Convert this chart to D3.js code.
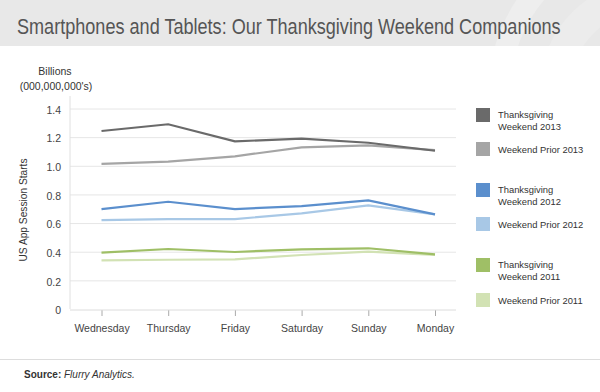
<!DOCTYPE html>
<html>
<head>
<meta charset="utf-8">
<script src="https://cdn.jsdelivr.net/npm/d3@7"></script>
<style>
  body { margin: 0; background: #fff; }
  svg { display: block; font-family: "Liberation Sans", Arial, sans-serif; }
  .tick text { fill: #444; }
</style>
</head>
<body>
<div id="chart"></div>
<script>
var days = ['Wednesday', 'Thursday', 'Friday', 'Saturday', 'Sunday', 'Monday'];
var yTicks = [0, 0.2, 0.4, 0.6, 0.8, 1.0, 1.2, 1.4];

var seriesNames = [
  ['Thanksgiving', 'Weekend 2013'],
  ['Weekend Prior 2013'],
  ['Thanksgiving', 'Weekend 2012'],
  ['Weekend Prior 2012'],
  ['Thanksgiving', 'Weekend 2011'],
  ['Weekend Prior 2011']
];
var seriesColors = ['#6a6a6a', '#a5a5a5', '#5b8fcd', '#a8c8e6', '#9fbf66', '#d2e2b4'];

var tw2013 = [1.243, 1.290, 1.171, 1.189, 1.161, 1.105];
var wp2013 = [1.013, 1.029, 1.066, 1.129, 1.143, 1.110];
var tw2012 = [0.698, 0.749, 0.698, 0.719, 0.759, 0.661];
var wp2012 = [0.621, 0.628, 0.628, 0.668, 0.724, 0.661];
var tw2011 = [0.393, 0.419, 0.398, 0.417, 0.424, 0.382];
var wp2011 = [0.340, 0.344, 0.347, 0.377, 0.400, 0.377];

var seriesValues = [tw2013, wp2013, tw2012, wp2012, tw2011, wp2011];

var width = 600, height = 392;

var svg = d3.select('#chart')
  .append('svg')
  .attr('width', width)
  .attr('height', height);

//--- HEADER BAND
svg.append('clipPath')
  .attr('id', 'headclip')
  .append('rect')
  .attr('width', width)
  .attr('height', 46);

svg.append('rect')
  .attr('width', width)
  .attr('height', 46)
  .attr('fill', '#e8e8e8');

var rings = svg.append('g').attr('clip-path', 'url(#headclip)');
rings.append('circle')
  .attr('cx', 650).attr('cy', 90).attr('r', 150)
  .attr('fill', 'none').attr('stroke', '#eeeeee').attr('stroke-width', 22);
rings.append('circle')
  .attr('cx', 650).attr('cy', 90).attr('r', 95)
  .attr('fill', 'none').attr('stroke', '#ececec').attr('stroke-width', 30);

// title is squeezed horizontally to the reference's narrow face
var title = svg.append('text')
  .attr('x', 0)
  .attr('y', 0)
  .attr('font-size', 22)
  .attr('fill', '#555')
  .text('Smartphones and Tablets: Our Thanksgiving Weekend Companions');
var titleScale = 544 / title.node().getComputedTextLength();
title.attr('transform', 'translate(17,34) scale(' + titleScale + ',1)');

//--- SCALES
var scaleX = d3.scalePoint()
  .domain(days)
  .range([101.5, 435])
  .padding(0);

var scaleY = d3.scaleLinear()
  .domain([0, 1.4])
  .range([309, 108.5]);

var left = 70, right = 456;

//--- GRID Y LINES
svg.append('g')
  .attr('class', 'grid')
  .attr('transform', 'translate(' + left + ',0)')
  .call(
    d3.axisLeft(scaleY)
    .tickValues(yTicks.slice(1))
    .tickSize(-(right - left))
    .tickFormat('')
  )
  .call(function(g) { g.select('.domain').remove(); })
  .selectAll('line')
  .attr('stroke', '#e6e6e6');

//--- Y AXIS
var axisY = svg.append('g')
  .attr('transform', 'translate(' + left + ',0)')
  .call(
    d3.axisLeft(scaleY)
    .tickValues(yTicks)
    .tickSize(0)
    .tickPadding(9)
    .tickFormat(function(d) { return d === 0 ? '0' : d3.format('.1f')(d); })
  );
axisY.select('.domain').remove();
axisY.selectAll('text').attr('font-size', 10.5).attr('font-family', null).attr('dy', '0.45em');

svg.append('line')
  .attr('x1', left).attr('x2', left)
  .attr('y1', 96).attr('y2', scaleY(0))
  .attr('stroke', '#e0e0e0');

//--- X AXIS
var axisX = svg.append('g')
  .attr('transform', 'translate(0,' + (scaleY(0) + 1) + ')')
  .call(
    d3.axisBottom(scaleX)
    .tickSize(6)
    .tickPadding(9)
  );
axisX.select('.domain').remove();
axisX.selectAll('line').attr('stroke', '#aaa');
axisX.selectAll('text').attr('font-size', 10.5).attr('font-family', null);

svg.append('line')
  .attr('x1', left).attr('x2', right)
  .attr('y1', scaleY(0) + 1).attr('y2', scaleY(0) + 1)
  .attr('stroke', '#dcdcdc');

//--- AXIS TITLES
svg.append('text')
  .attr('x', 55).attr('y', 75)
  .attr('text-anchor', 'middle')
  .attr('font-size', 10.5)
  .attr('fill', '#333')
  .text('Billions');
svg.append('text')
  .attr('x', 56).attr('y', 90)
  .attr('text-anchor', 'middle')
  .attr('font-size', 10.5)
  .attr('fill', '#333')
  .text("(000,000,000's)");

svg.append('text')
  .attr('transform', 'translate(27,210) rotate(-90)')
  .attr('text-anchor', 'middle')
  .attr('font-size', 10.2)
  .attr('fill', '#333')
  .text('US App Session Starts');

//--- LINES
var lineFunc = d3.line()
  .x(function(d, i) { return scaleX(days[i]); })
  .y(function(d) { return scaleY(d); });

var drawOrder = [5, 4, 3, 2, 1, 0];
svg.append('g')
  .selectAll('path')
  .data(drawOrder)
  .join('path')
  .attr('d', function(k) { return lineFunc(seriesValues[k]); })
  .attr('fill', 'none')
  .attr('stroke', function(k) { return seriesColors[k]; })
  .attr('stroke-width', 2.2);

//--- LEGEND
var legendY = [108, 142, 183, 217, 258, 293];
var legend = svg.append('g')
  .selectAll('g')
  .data(seriesNames)
  .join('g')
  .attr('transform', function(d, i) { return 'translate(476,' + legendY[i] + ')'; });

legend.append('rect')
  .attr('width', 14)
  .attr('height', 14)
  .attr('fill', function(d, i) { return seriesColors[i]; });

legend.append('text')
  .attr('font-size', 9.4)
  .attr('fill', '#333')
  .selectAll('tspan')
  .data(function(d) { return d; })
  .join('tspan')
  .attr('x', 22)
  .attr('y', function(d, i, nodes) {
    return nodes.length === 1 ? 10.5 : 9.5 + i * 12;
  })
  .text(function(d) { return d; });

//--- FOOTER
svg.append('line')
  .attr('x1', 0).attr('x2', width)
  .attr('y1', 359.5).attr('y2', 359.5)
  .attr('stroke', '#dddddd');

var source = svg.append('text')
  .attr('x', 24).attr('y', 378)
  .attr('font-size', 10)
  .attr('fill', '#333');
source.append('tspan').attr('font-weight', 'bold').text('Source: ');
source.append('tspan').attr('font-style', 'italic').text('Flurry Analytics.');
</script>
</body>
</html>
